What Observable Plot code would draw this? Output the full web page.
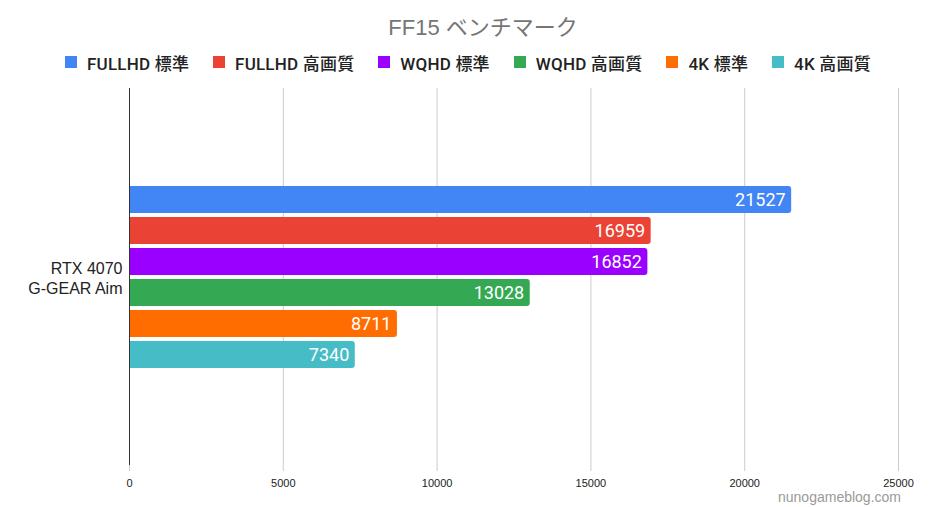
<!DOCTYPE html>
<html>
<head>
<meta charset="utf-8">
<script src="https://cdn.jsdelivr.net/npm/d3@7"></script>
<script src="https://cdn.jsdelivr.net/npm/@observablehq/plot@0.6"></script>
<style>
  html, body { margin: 0; padding: 0; background: #fff; }
  #wrap { position: relative; width: 936px; height: 507px; overflow: hidden; font-family: Roboto, "Noto Sans CJK JP", sans-serif; }
  #title { height: 44px; line-height: 56px; text-align: center; padding-left: 30px; font-size: 22px; color: #757575; font-family: "Liberation Sans", Arial, "Noto Sans CJK JP", sans-serif; }
  #legend { height: 36px; display: flex; justify-content: center; align-items: center; font-size: 17px; font-weight: 500; color: #222; letter-spacing: 0.2px; }
  .item { display: flex; align-items: center; margin: 0 12px; }
  .sw { width: 12px; height: 12px; margin-right: 10px; }
  #wm { position: absolute; left: 778px; top: 489px; line-height: 16px; font-family: "Liberation Sans", Arial, sans-serif; font-size: 14px; color: #9a9a9a; }
  svg { display: block; }
</style>
</head>
<body>
<div id="wrap">
  <div id="title">FF15 ベンチマーク</div>
  <div id="legend"></div>
  <div id="chart"></div>
  <div id="wm">nunogameblog.com</div>
</div>
<script>
const category = "RTX 4070\nG-GEAR Aim";
const series = ["FULLHD 標準", "FULLHD 高画質", "WQHD 標準", "WQHD 高画質", "4K 標準", "4K 高画質"];
const values = [21527, 16959, 16852, 13028, 8711, 7340];
const colors = ["#4285F4", "#EA4335", "#9900FF", "#34A853", "#FF6D01", "#46BDC6"];
const xTicks = [0, 5000, 10000, 15000, 20000, 25000];

const data = series.map((s, i) => ({series: s, value: values[i], color: colors[i]}));

const legend = document.getElementById("legend");
series.forEach((s, i) => {
  const it = document.createElement("div");
  it.className = "item";
  const sw = document.createElement("div");
  sw.className = "sw";
  sw.style.background = colors[i];
  const t = document.createElement("span");
  t.textContent = s;
  it.appendChild(sw); it.appendChild(t);
  legend.appendChild(it);
});

const chart = Plot.plot({
  width: 936,
  height: 427,
  marginTop: 8,
  marginBottom: 42,
  marginLeft: 129,
  marginRight: 38,
  style: {fontFamily: "'Liberation Sans', Arial, sans-serif", fontSize: "11px", color: "#222"},
  x: {domain: [0, 25000], ticks: xTicks, tickFormat: d => String(d), label: null},
  y: {domain: series, range: [104, 290], paddingInner: 0.12, paddingOuter: 0.06, axis: null},
  marks: [
    Plot.ruleX(xTicks.slice(1), {stroke: "#cccccc", strokeWidth: 1}),
    Plot.axisX({ticks: xTicks, tickSize: 6, tickPadding: 8, stroke: "#cccccc", fill: "#222", fontSize: 11, label: null, tickFormat: d => String(d)}),
    Plot.barX(data, {x: "value", y: "series", fill: "color", rx: 3}),
    Plot.barX(data, {x1: 0, x2: d => d.value * 0.5, y: "series", fill: "color"}),
    Plot.text(data, {x: "value", y: "series", text: d => String(d.value), textAnchor: "end", dx: -6, fill: "white", fontSize: 18, fontFamily: "Roboto, sans-serif"}),
    Plot.ruleX([0], {stroke: "#333", strokeWidth: 1}),
    Plot.text([category], {frameAnchor: "left", text: d => d, textAnchor: "end", dx: -7, dy: 1, fontSize: 16, lineHeight: 1.25, fill: "#222", fontFamily: "'Liberation Sans', Arial, sans-serif"})
  ]
});
document.getElementById("chart").appendChild(chart);
</script>
</body>
</html>
